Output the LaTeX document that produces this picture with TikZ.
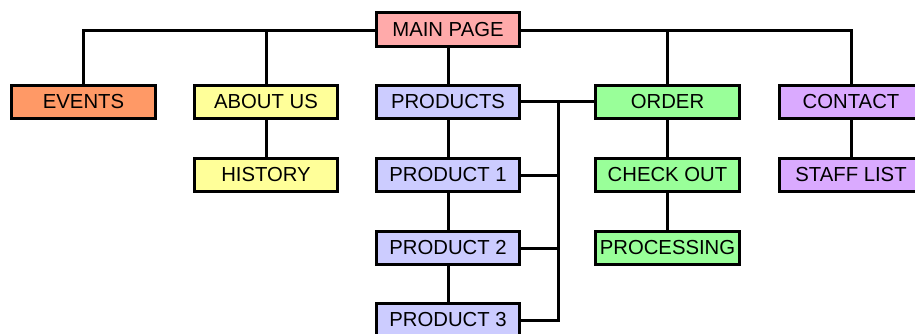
\documentclass[tikz,border=0pt]{standalone}
\usepackage{fontspec}
\setmainfont{Liberation Sans}
\begin{document}
\begin{tikzpicture}[x=1pt,y=-1pt,
  pagebox/.style={draw=black,line width=3.1pt,minimum width=143.5pt,minimum height=33.5pt,
    inner sep=0pt,font=\fontsize{20.3}{23}\selectfont},
  link/.style={line width=3pt,draw=black}]
\definecolor{cmain}{HTML}{FFAAAA}
\definecolor{cevents}{HTML}{FF9966}
\definecolor{cabout}{HTML}{FFFF99}
\definecolor{cprod}{HTML}{CCCCFF}
\definecolor{corder}{HTML}{99FF99}
\definecolor{ccontact}{HTML}{DAAAFF}
\useasboundingbox (0,0) rectangle (915,334);
\clip (0,0) rectangle (915,334);
\node[pagebox,fill=cmain] (main) at (448,29.5) {MAIN PAGE};
\node[pagebox,fill=cevents] (events) at (83.5,102) {EVENTS};
\node[pagebox,fill=cabout] (about) at (266,102) {ABOUT US};
\node[pagebox,fill=cabout] (history) at (266,175) {HISTORY};
\node[pagebox,fill=cprod] (products) at (448,102) {PRODUCTS};
\node[pagebox,fill=cprod] (p1) at (448,175) {PRODUCT 1};
\node[pagebox,fill=cprod] (p2) at (448,248) {PRODUCT 2};
\node[pagebox,fill=cprod] (p3) at (448,320) {PRODUCT 3};
\node[pagebox,fill=corder] (order) at (667.5,102) {ORDER};
\node[pagebox,fill=corder] (checkout) at (667.5,175) {CHECK OUT};
\node[pagebox,fill=corder] (processing) at (667.5,248) {PROCESSING};
\node[pagebox,fill=ccontact] (contact) at (851,102) {CONTACT};
\node[pagebox,fill=ccontact] (staff) at (851,175) {STAFF LIST};
\coordinate (bus) at (558,102);
\coordinate (topline) at (448,31);
\draw[link] (events.north) |- (main.west |- topline);
\draw[link] (about.north) -- (about.north |- topline);
\draw[link] (main.east |- topline) -| (contact.north);
\draw[link] (order.north) -- (order.north |- topline);
\draw[link] (main.south) -- (products.north);
\draw[link] (about.south) -- (history.north);
\draw[link] (products.south) -- (p1.north);
\draw[link] (p1.south) -- (p2.north);
\draw[link] (p2.south) -- (p3.north);
\draw[link] (order.south) -- (checkout.north);
\draw[link] (checkout.south) -- (processing.north);
\draw[link] (contact.south) -- (staff.north);
\draw[link] (products.east) -- (order.west);
\draw[link] (bus) |- (p3.east);
\draw[link] (p1.east) -- (p1.east -| bus);
\draw[link] (p2.east) -- (p2.east -| bus);
\end{tikzpicture}
\end{document}
